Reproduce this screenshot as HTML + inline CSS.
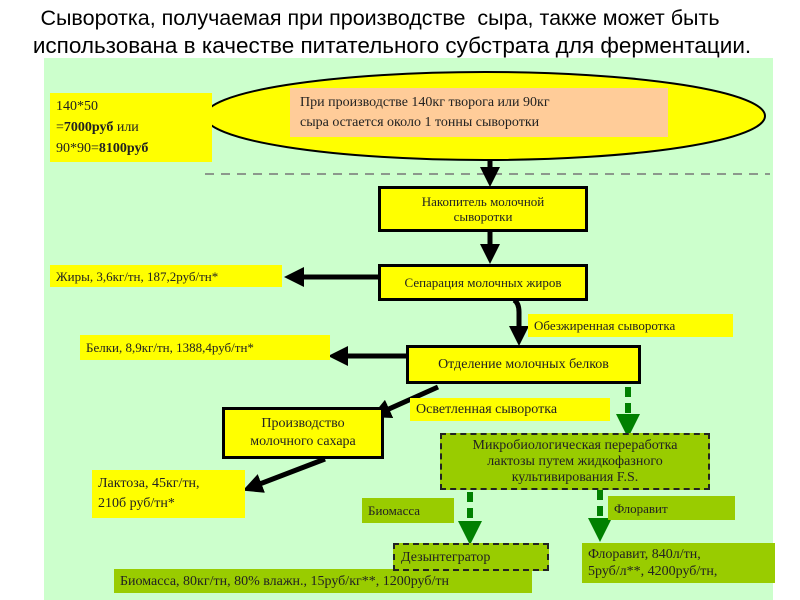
<!DOCTYPE html>
<html><head><meta charset="utf-8"><style>
body{margin:0;width:800px;height:600px;background:#fff;position:relative;overflow:hidden;font-family:"Liberation Serif","DejaVu Serif",serif}
.t{position:absolute;left:0;width:800px;text-align:center;font-family:"Liberation Sans Narrow","Liberation Sans",sans-serif;font-size:21.5px;color:#000;white-space:nowrap}
.b{position:absolute;box-sizing:border-box;display:flex;align-items:center;justify-content:center;text-align:center;font-size:13px;line-height:15px;color:#222;white-space:nowrap}
.y{background:#ffff00}
.k{background:#ffff00;border:3px solid #000}
.g{background:#99cc00}
.gd{background:#99cc00;border:2px dashed #222}
.l{justify-content:flex-start;text-align:left;padding-left:6px}
</style></head><body>
<div class="t" style="top:6px;left:-20px">Сыворотка, получаемая при производстве&nbsp; сыра, также может быть</div>
<div class="t" style="top:33px;left:-8px;font-size:22.5px">использована в качестве питательного субстрата для ферментации.</div>
<div style="position:absolute;left:44px;top:58px;width:729px;height:542px;background:#ccffcc"></div>
<svg style="position:absolute;left:0;top:0" width="800" height="600">
<defs>
<marker id="a" markerWidth="4" markerHeight="4" refX="2" refY="2" orient="auto" markerUnits="strokeWidth"><path d="M0,0L4,2L0,4Z" fill="#000"/></marker>
<marker id="ga" markerWidth="4" markerHeight="4" refX="2" refY="2" orient="auto" markerUnits="strokeWidth"><path d="M0,0L4,2L0,4Z" fill="#008000"/></marker>
</defs>
<ellipse cx="485" cy="116" rx="280" ry="44" fill="#ffff00" stroke="#000" stroke-width="2"/>
<line x1="205" y1="174" x2="770" y2="174" stroke="#777" stroke-width="1.5" stroke-dasharray="9,7"/>
<g stroke="#000" stroke-width="5" fill="none">
<line x1="207" y1="131" x2="174" y2="131" marker-end="url(#a)"/>
<line x1="490" y1="160" x2="490" y2="177" marker-end="url(#a)"/>
<line x1="490" y1="232" x2="490" y2="254" marker-end="url(#a)"/>
<line x1="378" y1="277" x2="294" y2="277" marker-end="url(#a)"/>
<path d="M514,300 Q519,303 519,312 L519,336" marker-end="url(#a)"/>
<line x1="406" y1="356" x2="338" y2="356" marker-end="url(#a)"/>
<line x1="438" y1="387" x2="380" y2="413" marker-end="url(#a)"/>
<line x1="325" y1="459" x2="252" y2="487" marker-end="url(#a)"/>
</g>
<g stroke="#008000" stroke-width="6" fill="none">
<line x1="628" y1="387" x2="628" y2="426" stroke-dasharray="10,6" marker-end="url(#ga)"/>
<line x1="470" y1="492" x2="470" y2="533" stroke-dasharray="10,6" marker-end="url(#ga)"/>
<line x1="600" y1="490" x2="600" y2="530" stroke-dasharray="10,6" marker-end="url(#ga)"/>
</g>
</svg>
<div class="b" style="left:290px;top:88px;width:378px;height:49px;background:#ffcc99;font-size:14px;line-height:20px;justify-content:flex-start;text-align:left;padding-left:10px">При производстве 140кг творога или 90кг<br>сыра остается около 1 тонны сыворотки</div>
<div class="b y" style="display:block;text-align:left;left:50px;top:93px;width:162px;height:69px;font-size:14px;line-height:21px;padding:3px 0 0 6px">140*50<br>=<b>7000руб</b> или<br>90*90=<b>8100руб</b></div>
<div class="b k" style="left:378px;top:186px;width:210px;height:46px">Накопитель молочной<br>сыворотки</div>
<div class="b k" style="left:378px;top:264px;width:210px;height:37px">Сепарация молочных жиров</div>
<div class="b y l" style="left:50px;top:265px;width:232px;height:22px">Жиры, 3,6кг/тн, 187,2руб/тн*</div>
<div class="b y l" style="left:528px;top:314px;width:205px;height:23px">Обезжиренная сыворотка</div>
<div class="b y l" style="left:80px;top:335px;width:250px;height:25px">Белки, 8,9кг/тн, 1388,4руб/тн*</div>
<div class="b k" style="left:406px;top:345px;width:235px;height:39px;font-size:14px">Отделение молочных белков</div>
<div class="b y l" style="left:410px;top:398px;width:200px;height:23px;font-size:14px">Осветленная сыворотка</div>
<div class="b k" style="left:222px;top:407px;width:162px;height:52px;font-size:14px;line-height:18px">Производство<br>молочного сахара</div>
<div class="b y l" style="left:92px;top:470px;width:153px;height:48px;font-size:14px;line-height:20px">Лактоза, 45кг/тн,<br>210б руб/тн*</div>
<div class="b gd" style="left:440px;top:433px;width:270px;height:57px;font-size:14px;line-height:16px">Микробиологическая переработка<br>лактозы путем жидкофазного<br>культивирования F.S.</div>
<div class="b g l" style="left:362px;top:498px;width:92px;height:25px">Биомасса</div>
<div class="b g l" style="left:608px;top:496px;width:127px;height:24px">Флоравит</div>
<div class="b g l" style="left:114px;top:569px;width:418px;height:24px;font-size:14px">Биомасса, 80кг/тн, 80% влажн., 15руб/кг**, 1200руб/тн</div>
<div class="b gd l" style="left:393px;top:543px;width:156px;height:28px;font-size:14px">Дезынтегратор</div>
<div class="b g l" style="left:582px;top:543px;width:193px;height:40px;font-size:14px;line-height:17px;align-items:flex-start;padding-top:3px">Флоравит, 840л/тн,<br>5руб/л**, 4200руб/тн,</div>
</body></html>
